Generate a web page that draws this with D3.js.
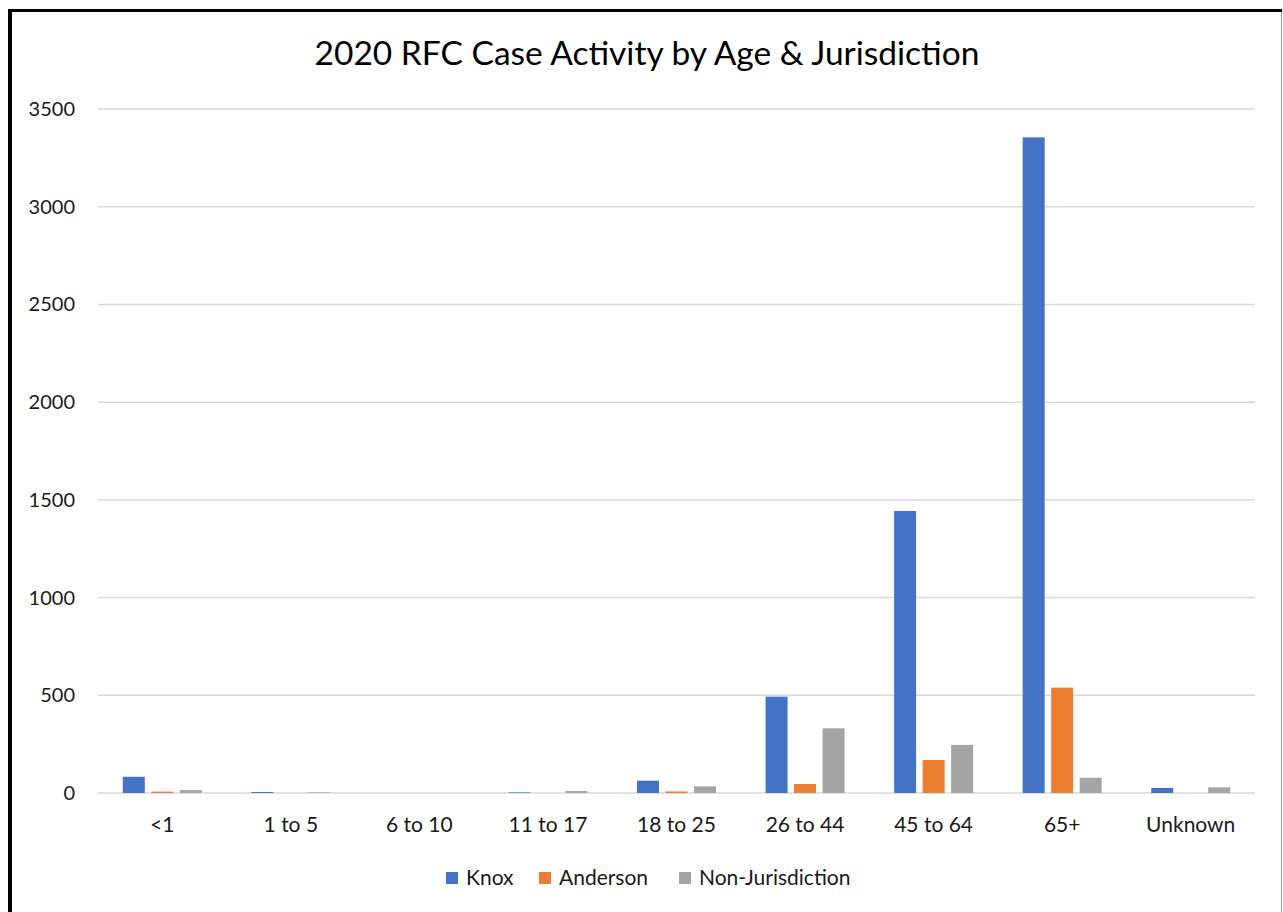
<!DOCTYPE html>
<html>
<head>
<meta charset="utf-8">
<script src="https://cdn.jsdelivr.net/npm/d3@7"></script>
<style>
  body { margin: 0; background: #fff; }
  svg { display: block; font-family: Lato, "Open Sans", sans-serif; }
</style>
</head>
<body>
<div id="chart"></div>
<script>
// Data
const ageGroups = ["<1", "1 to 5", "6 to 10", "11 to 17", "18 to 25", "26 to 44", "45 to 64", "65+", "Unknown"];
const seriesNames = ["Knox", "Anderson", "Non-Jurisdiction"];
const knox = [83, 5, 0, 3, 63, 493, 1443, 3355, 26];
const anderson = [7, 0, 0, 0, 8, 46, 169, 539, 0];
const nonJurisdiction = [15, 3, 0, 10, 34, 331, 246, 78, 29];
const yTicks = [0, 500, 1000, 1500, 2000, 2500, 3000, 3500];
const colors = ["#4472c4", "#ed7d31", "#a5a5a5"];

const width = 1283;
const height = 912;
const margin = { top: 109, right: 28, bottom: 119, left: 98 };

const svg = d3.select("#chart")
  .append("svg")
  .attr("width", width)
  .attr("height", height);

// Chart frame: thick black top/left, thin grey right
svg.append("rect").attr("x", 0).attr("y", 0).attr("width", width).attr("height", height).attr("fill", "#fff");
svg.append("line").attr("x1", 10).attr("x2", 10).attr("y1", 9).attr("y2", height).attr("stroke", "#000").attr("stroke-width", 4);
svg.append("line").attr("x1", 8).attr("x2", 1282).attr("y1", 10.5).attr("y2", 10.5).attr("stroke", "#000").attr("stroke-width", 3);
svg.append("line").attr("x1", 1281.5).attr("x2", 1281.5).attr("y1", 12).attr("y2", height).attr("stroke", "#9a9a9a").attr("stroke-width", 1);

// Title
svg.append("text")
  .attr("x", 647)
  .attr("y", 65)
  .attr("text-anchor", "middle")
  .style("font-size", "33.5px")
  .style("fill", "#000")
  .text("2020 RFC Case Activity by Age & Jurisdiction");

// Scales
const x0 = d3.scaleBand()
  .domain(ageGroups)
  .range([margin.left, width - margin.right])
  .paddingInner(0)
  .paddingOuter(0);

const y = d3.scaleLinear()
  .domain([0, 3500])
  .range([height - margin.bottom, margin.top]);

const barW = 22;
const barGap = 6.5;

// Gridlines
svg.append("g")
  .selectAll("line")
  .data(yTicks)
  .join("line")
  .attr("x1", margin.left)
  .attr("x2", width - margin.right)
  .attr("y1", d => y(d))
  .attr("y2", d => y(d))
  .attr("stroke", "#d9d9d9")
  .attr("stroke-width", 1.5);

// Y axis labels
svg.append("g")
  .selectAll("text")
  .data(yTicks)
  .join("text")
  .attr("x", 75)
  .attr("y", d => y(d) + 7)
  .attr("text-anchor", "end")
  .style("font-size", "20px")
  .style("fill", "#1a1a1a")
  .text(d => d);

// Bars
const rows = ageGroups.map((g, i) => ({
  group: g,
  values: [knox[i], anderson[i], nonJurisdiction[i]]
}));

const groups = svg.append("g")
  .selectAll("g")
  .data(rows)
  .join("g")
  .attr("transform", d => `translate(${x0(d.group) + x0.bandwidth() / 2},0)`);

groups.selectAll("rect")
  .data(d => d.values.map((v, k) => ({ v, k })))
  .join("rect")
  .attr("x", d => (d.k - 1) * (barW + barGap) - barW / 2)
  .attr("y", d => y(d.v))
  .attr("width", barW)
  .attr("height", d => y(0) - y(d.v))
  .attr("fill", d => colors[d.k]);

// X axis labels
svg.append("g")
  .selectAll("text")
  .data(ageGroups)
  .join("text")
  .attr("x", d => x0(d) + x0.bandwidth() / 2)
  .attr("y", 832)
  .attr("text-anchor", "middle")
  .style("font-size", "21px")
  .style("fill", "#1a1a1a")
  .text(d => d);

// Legend
const legendX = [446, 539, 679];
const legend = svg.append("g")
  .selectAll("g")
  .data(seriesNames)
  .join("g")
  .attr("transform", (d, i) => `translate(${legendX[i]},872)`);

legend.append("rect")
  .attr("width", 12)
  .attr("height", 12)
  .attr("fill", (d, i) => colors[i]);

legend.append("text")
  .attr("x", 20)
  .attr("y", 13)
  .style("font-size", "21px")
  .style("fill", "#1a1a1a")
  .text(d => d);
</script>
</body>
</html>
